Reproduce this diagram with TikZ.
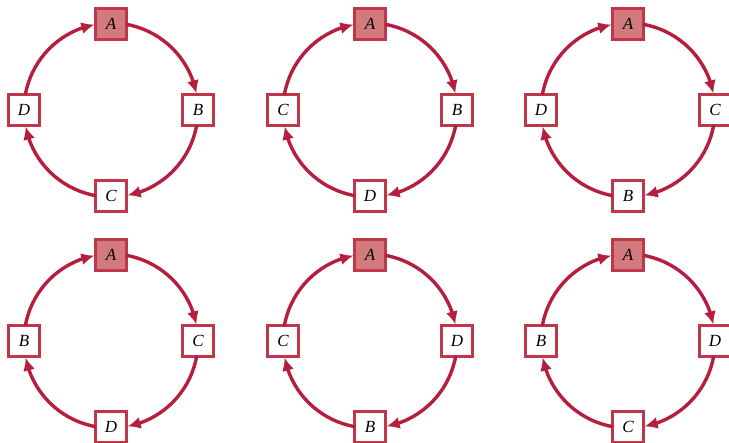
\documentclass[tikz,border=0pt]{standalone}
\usepackage{fontspec}
\setmainfont{Liberation Serif}
\usetikzlibrary{arrows.meta,bending}
\definecolor{cyc}{HTML}{B51E3C}
\definecolor{boxline}{HTML}{C0374A}
\definecolor{afill}{HTML}{D37A7C}
\tikzset{
  x=1pt,y=1pt,
  sq/.style={draw=boxline,line width=2.2pt,fill=white,minimum width=31pt,minimum height=31pt,inner sep=0pt,font=\fontsize{17}{19}\selectfont\itshape},
  sqa/.style={sq,fill=afill},
  cyarr/.style={draw=cyc,line width=3.4pt,-{Latex[length=13pt,width=12pt]}},
}
\newcommand{\cyclepic}[6]{%
  % #1 cx, #2 cy, #3 prefix, #4 right, #5 bottom, #6 left
  \coordinate (#3c) at (#1,#2);
  \node[sqa] (#3t) at ([shift={(90:86)}]#3c) {A};
  \node[sq] (#3r) at ([shift={(0:87)}]#3c) {#4};
  \node[sq] (#3b) at ([shift={(-90:86)}]#3c) {#5};
  \node[sq] (#3l) at ([shift={(180:87)}]#3c) {#6};
  \draw[cyarr] ([shift={(80:87)}]#3c) arc[start angle=80,end angle=11,radius=87];
  \draw[cyarr] ([shift={(-10:87)}]#3c) arc[start angle=-10,end angle=-79,radius=87];
  \draw[cyarr] ([shift={(-100:87)}]#3c) arc[start angle=-100,end angle=-169,radius=87];
  \draw[cyarr] ([shift={(170:87)}]#3c) arc[start angle=170,end angle=101,radius=87];
}
\begin{document}
\begin{tikzpicture}
\useasboundingbox (0,0) rectangle (729,443);
\fill[white] (0,0) rectangle (729,443);
\cyclepic{111}{333}{a}{B}{C}{D}
\cyclepic{370}{333}{b}{B}{D}{C}
\cyclepic{628}{333}{c}{C}{B}{D}
\cyclepic{111}{102}{d}{C}{D}{B}
\cyclepic{370}{102}{e}{D}{B}{C}
\cyclepic{628}{102}{f}{D}{C}{B}
\end{tikzpicture}
\end{document}
